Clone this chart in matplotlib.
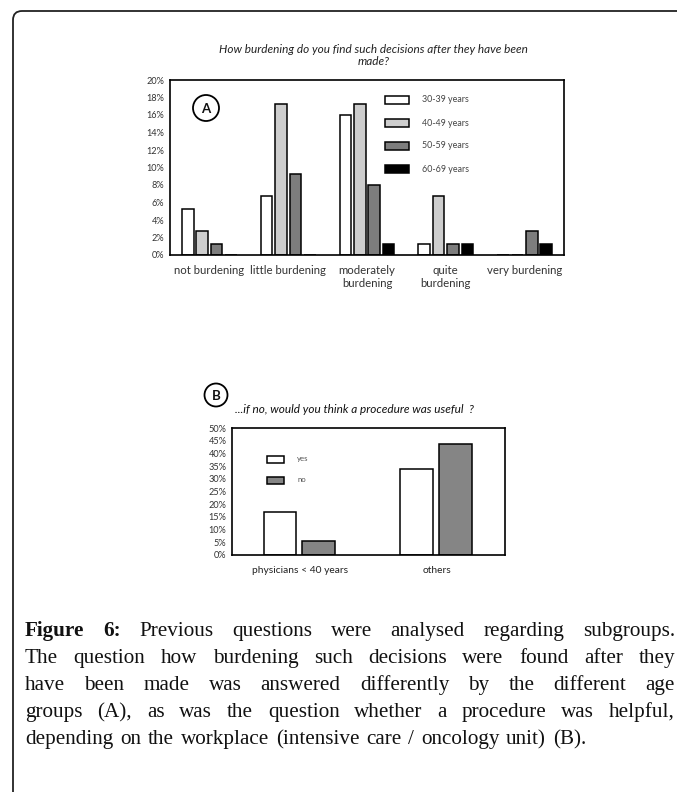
import numpy as np
import matplotlib
matplotlib.use("Agg")
import matplotlib.pyplot as plt
from matplotlib.patches import Rectangle, Ellipse, FancyBboxPatch
from matplotlib.transforms import IdentityTransform
from matplotlib.ticker import PercentFormatter

# ---- data (percent) ----
burden_cats = ['not burdening', 'little burdening', 'moderately\nburdening',
               'quite\nburdening', 'very burdening']
age_groups = ['30-39 years', '40-49 years', '50-59 years', '60-69 years']
age_30_39 = [5.3, 6.7, 16.0, 1.3, 0.0]
age_40_49 = [2.7, 17.3, 17.3, 6.7, 0.0]
age_50_59 = [1.3, 9.3, 8.0, 1.3, 2.7]
age_60_69 = [0.0, 0.0, 1.3, 1.3, 1.3]

proc_cats = ['physicians < 40 years', 'others']
proc_yes = [17.0, 34.0]
proc_no = [5.7, 43.6]

caption_lines = [
    "Figure 6: Previous questions were analysed regarding subgroups.",
    "The question how burdening such decisions were found after they",
    "have been made was answered differently by the different age",
    "groups (A), as was the question whether a procedure was helpful,",
    "depending on the workplace (intensive care / oncology unit) (B).",
]

W, H = 677, 792
plt.rcParams['font.family'] = ['Lato', 'DejaVu Sans']

fig = plt.figure(figsize=(W / 100, H / 100), dpi=100)


def fx(x):
    return x / W


def fy(y):
    return 1 - y / H


def pix_axes(x0, y0, x1, y1):
    return fig.add_axes([fx(x0), fy(y1), fx(x1 - x0), (y1 - y0) / H])


def style_axes(ax):
    for s in ax.spines.values():
        s.set_linewidth(1.2)
        s.set_color('black')
    ax.tick_params(axis='both', length=0)
    ax.yaxis.set_major_formatter(PercentFormatter(decimals=0))


# ---- outer frame ----
frame = FancyBboxPatch((13, -60), 900, (H - 11) + 60,
                       boxstyle='round,pad=0,rounding_size=9',
                       transform=IdentityTransform(), fill=False,
                       lw=1.3, ec='#222222')
fig.add_artist(frame)

# ---- chart A ----
axA = pix_axes(170, 80, 564, 255)
style_axes(axA)
colors_a = ['white', '#cdcdcd', '#7d7d7d', 'black']
series_a = [age_30_39, age_40_49, age_50_59, age_60_69]
x = np.arange(len(burden_cats))
for k, vals in enumerate(series_a):
    axA.bar(x + (k - 1.5) * 0.183, vals, width=0.148, color=colors_a[k],
            edgecolor='black', linewidth=1.1)
axA.set_xlim(-0.5, 4.5)
axA.set_ylim(0, 20)
axA.set_yticks(np.arange(0, 21, 2))
axA.set_xticks(x)
axA.set_xticklabels(burden_cats, fontsize=8.2, color='#333333', linespacing=1.25)
axA.tick_params(axis='x', pad=7)
axA.tick_params(axis='y', labelsize=6.6, pad=4, labelcolor='#333333')

fig.text(fx(373.5), fy(55.5), 'How burdening do you find such decisions after they have been\nmade?',
         ha='center', va='center', fontsize=8.5, style='italic', linespacing=1.2,
         color='#222222')

# legend A
for k, lab in enumerate(age_groups):
    yc = 100 + k * 23
    fig.add_artist(Rectangle((fx(385), fy(yc + 4.3)), fx(24), 8.6 / H,
                             transform=fig.transFigure, facecolor=colors_a[k],
                             edgecolor='black', linewidth=1.1))
    fig.text(fx(422), fy(yc), lab, ha='left', va='center', fontsize=6.4, color='#444444')

# ---- chart B ----
axB = pix_axes(232, 428, 505, 555)
style_axes(axB)
xb = np.arange(len(proc_cats))
axB.bar(xb - 0.148, proc_yes, width=0.24, color='white', edgecolor='black', linewidth=1.1)
axB.bar(xb + 0.136, proc_no, width=0.24, color='#858585', edgecolor='black', linewidth=1.1)
axB.set_xlim(-0.5, 1.5)
axB.set_ylim(0, 50)
axB.set_yticks(np.arange(0, 51, 5))
axB.set_xticks(xb)
axB.set_xticklabels(proc_cats, fontsize=7.4, color='#222222')
axB.tick_params(axis='x', pad=8)
axB.tick_params(axis='y', labelsize=6.6, pad=4, labelcolor='#333333')

fig.text(fx(235), fy(410), '...if no, would you think a procedure was useful  ?',
         ha='left', va='center', fontsize=8.5, style='italic', color='#111111')

for k, (lab, col) in enumerate([('yes', 'white'), ('no', '#858585')]):
    yc = 459.5 + k * 20.5
    fig.add_artist(Rectangle((fx(267), fy(yc + 3.5)), fx(17), 7 / H,
                             transform=fig.transFigure, facecolor=col,
                             edgecolor='black', linewidth=1.1))
    fig.text(fx(297), fy(yc - 1), lab, ha='left', va='center', fontsize=5.6, color='#555555')

# ---- panel letters ----
for (cx, cy, d, letter) in [(206, 108, 26, 'A'), (216, 395, 23, 'B')]:
    fig.add_artist(Ellipse((fx(cx), fy(cy)), fx(d), d / H, transform=fig.transFigure,
                           facecolor='white', edgecolor='black', linewidth=1.3))
    fig.text(fx(cx), fy(cy), letter, ha='center', va='center_baseline',
             fontsize=9.5, fontweight='bold', color='#111111')

# ---- caption, justified ----
serif = 'Liberation Serif'
cap_size = 15.2
left, right = 25, 675
baseline0, line_step = 636, 27
renderer = fig.canvas.get_renderer()


def word_width(txt, bold):
    t = fig.text(0, 0, txt, fontsize=cap_size, family=serif,
                 fontweight='bold' if bold else 'normal')
    w = t.get_window_extent(renderer).width
    t.remove()
    return w


space_w = word_width('a b', False) - word_width('ab', False)
for i, line in enumerate(caption_lines):
    words = line.split(' ')
    bolds = [i == 0 and j < 2 for j in range(len(words))]
    widths = [word_width(w, b) for w, b in zip(words, bolds)]
    if i < len(caption_lines) - 1:
        gap = (right - left - sum(widths)) / (len(words) - 1)
    else:
        gap = space_w * 1.3
    xpos = left
    yb = baseline0 + i * line_step
    for w, b, wd in zip(words, bolds, widths):
        fig.text(fx(xpos), fy(yb), w, fontsize=cap_size, family=serif,
                 fontweight='bold' if b else 'normal', ha='left', va='baseline',
                 color='#111111')
        xpos += wd + gap

fig.savefig('out.png', dpi=100, facecolor='white')
